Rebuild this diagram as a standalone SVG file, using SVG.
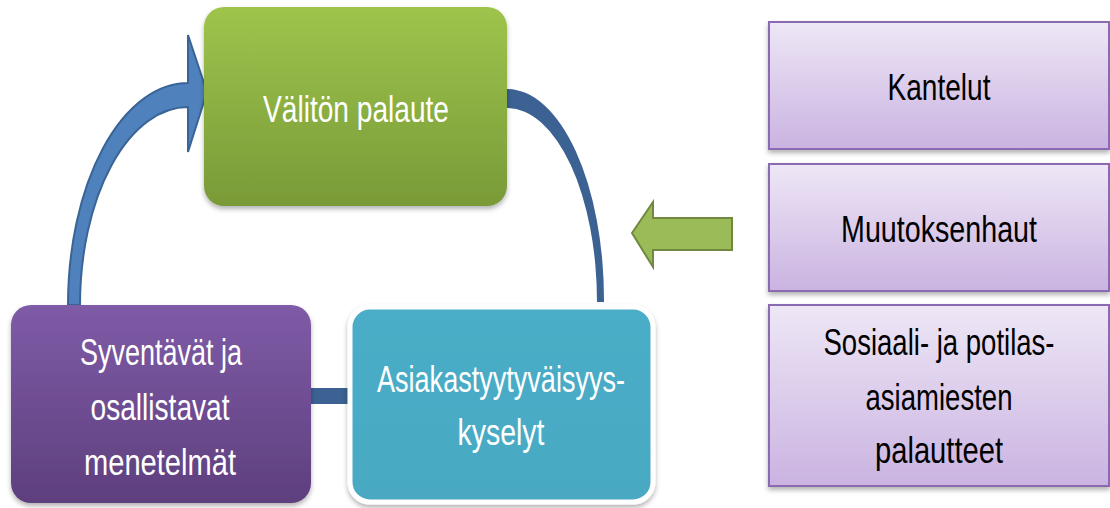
<svg xmlns="http://www.w3.org/2000/svg" width="1110" height="508" viewBox="0 0 1110 508">
<defs>
<linearGradient id="gGreen" x1="0" y1="0" x2="0" y2="1"><stop offset="0" stop-color="#9EC44C"/><stop offset="1" stop-color="#799A38"/></linearGradient>
<linearGradient id="gPurple" x1="0" y1="0" x2="0" y2="1"><stop offset="0" stop-color="#7F5BA7"/><stop offset="1" stop-color="#5E3F7E"/></linearGradient>
<linearGradient id="gTeal" x1="0" y1="0" x2="0" y2="1"><stop offset="0" stop-color="#4BADC7"/><stop offset="1" stop-color="#48A9C3"/></linearGradient>
<linearGradient id="gLav" x1="0" y1="0" x2="0" y2="1"><stop offset="0" stop-color="#EEE7F6"/><stop offset="1" stop-color="#CAB3E1"/></linearGradient>
<filter id="sh" x="-10%" y="-10%" width="120%" height="125%"><feDropShadow dx="0" dy="3" stdDeviation="2.5" flood-color="#000" flood-opacity="0.3"/></filter>
</defs>
<style>
text{font-family:"Liberation Sans Narrow","Liberation Sans",Arial,sans-serif;font-size:37px;text-anchor:middle}
.w{fill:#FFFFFF}
.k{fill:#000000}
.lav{fill:url(#gLav);stroke:#8A6BB0;stroke-width:2}
</style>
<g id="connectors">
<path d="M68,305 A120,222 0 0 1 188,83 L188,35 L207,92 L188,152 L188,107 A108,198 0 0 0 80,305 Z" fill="#4F81BD" stroke="#3A6496" stroke-width="2"/>
<path d="M507,89 A97,211 0 0 1 604,302 L597,302 A90,194 0 0 0 507,108 Z" fill="#3B6293"/>
<rect x="306" y="388" width="48" height="16" fill="#3B6293"/>
<path d="M632,233 L653,202 L653,218 L732,218 L732,250 L653,250 L653,267 Z" fill="#9BBB59" stroke="#71893F" stroke-width="2"/>
</g>
<g id="node-valiton">
<rect x="204" y="7" width="303" height="199" rx="20" fill="url(#gGreen)" filter="url(#sh)"/>
<text class="w" x="356" y="122" textLength="186" lengthAdjust="spacingAndGlyphs">Välitön palaute</text>
</g>
<g id="node-syventavat">
<rect x="11" y="305" width="300" height="198" rx="20" fill="url(#gPurple)" filter="url(#sh)"/>
<text class="w" x="161" y="365" textLength="162" lengthAdjust="spacingAndGlyphs">Syventävät ja</text>
<text class="w" x="160" y="420" textLength="139" lengthAdjust="spacingAndGlyphs">osallistavat</text>
<text class="w" x="160" y="475" textLength="152" lengthAdjust="spacingAndGlyphs">menetelmät</text>
</g>
<g id="node-asiakas">
<rect x="350" y="307" width="303" height="195" rx="20" fill="url(#gTeal)" stroke="#FFFFFF" stroke-width="5" filter="url(#sh)"/>
<text class="w" x="501" y="392" textLength="248" lengthAdjust="spacingAndGlyphs">Asiakastyytyväisyys-</text>
<text class="w" x="501" y="445" textLength="87" lengthAdjust="spacingAndGlyphs">kyselyt</text>
</g>
<g id="node-kantelut">
<rect class="lav" x="769" y="22" width="340" height="127" filter="url(#sh)"/>
<text class="k" x="939" y="100" textLength="103" lengthAdjust="spacingAndGlyphs">Kantelut</text>
</g>
<g id="node-muutoksenhaut">
<rect class="lav" x="769" y="164" width="340" height="127" filter="url(#sh)"/>
<text class="k" x="939" y="242" textLength="196" lengthAdjust="spacingAndGlyphs">Muutoksenhaut</text>
</g>
<g id="node-sosiaali">
<rect class="lav" x="769" y="305" width="340" height="181" filter="url(#sh)"/>
<text class="k" x="939" y="355" textLength="231" lengthAdjust="spacingAndGlyphs">Sosiaali- ja potilas-</text>
<text class="k" x="939" y="410" textLength="147" lengthAdjust="spacingAndGlyphs">asiamiesten</text>
<text class="k" x="939" y="463" textLength="128" lengthAdjust="spacingAndGlyphs">palautteet</text>
</g>
</svg>
